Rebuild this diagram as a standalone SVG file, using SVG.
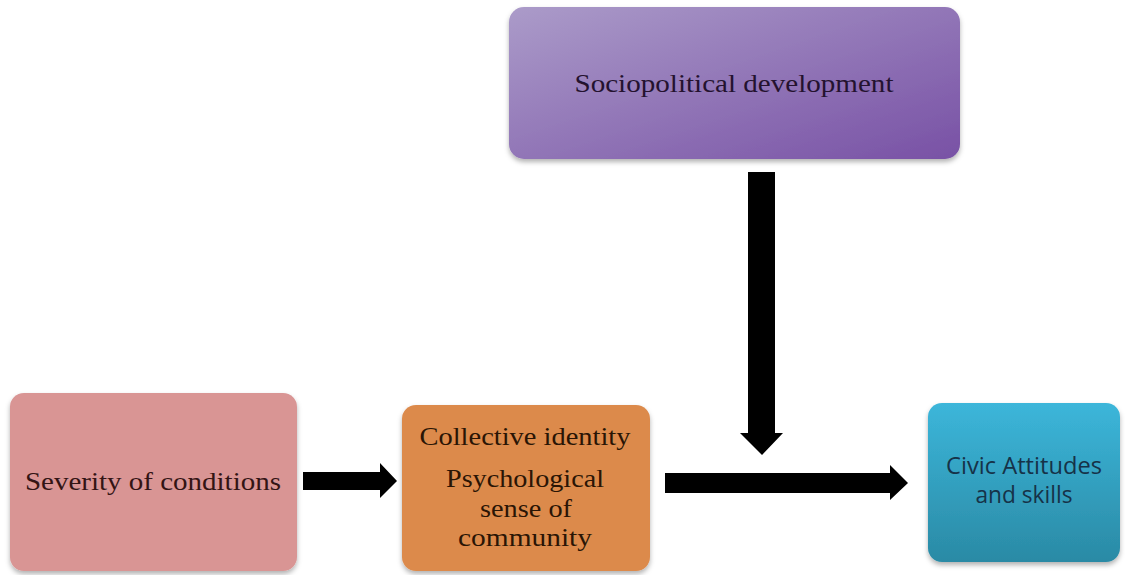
<svg xmlns="http://www.w3.org/2000/svg" width="1125" height="575" viewBox="0 0 1125 575">
<defs>
<linearGradient id="gPurple" x1="0" y1="0" x2="1" y2="1">
<stop offset="0" stop-color="#ab9bc9"/>
<stop offset="1" stop-color="#7851a5"/>
</linearGradient>
<linearGradient id="gTeal" x1="0" y1="0" x2="0" y2="1">
<stop offset="0" stop-color="#3cb6da"/>
<stop offset="1" stop-color="#2a8aa5"/>
</linearGradient>
<filter id="sh" x="-10%" y="-10%" width="120%" height="125%">
<feDropShadow dx="0" dy="3" stdDeviation="2.5" flood-color="#000" flood-opacity="0.3"/>
</filter>
</defs>
<style>
.serif{font-family:"Liberation Serif","DejaVu Serif",serif;font-size:26px;text-anchor:middle}
.sans{font-family:"Open Sans","Liberation Sans",sans-serif;font-size:23px;text-anchor:middle;fill:#163248}
</style>
<rect width="1125" height="575" fill="#ffffff"/>
<g id="connectors" fill="#000">
<polygon points="303,472 380,472 380,463 397,481 380,498 380,490 303,490"/>
<polygon points="665,473 890,473 890,465 908,483 890,500 890,493 665,493"/>
<polygon points="748,172 775,172 775,433 783,433 762,455 740,433 748,433"/>
</g>
<g id="sociopolitical">
<rect x="509" y="7" width="451" height="152" rx="15" fill="url(#gPurple)" filter="url(#sh)"/>
<text class="serif" x="734" y="92" fill="#24122f" textLength="319" lengthAdjust="spacingAndGlyphs">Sociopolitical development</text>
</g>
<g id="severity">
<rect x="10" y="393" width="287" height="178" rx="14" fill="#d99594" filter="url(#sh)"/>
<text class="serif" x="153" y="490" fill="#331414" textLength="256" lengthAdjust="spacingAndGlyphs">Severity of conditions</text>
</g>
<g id="collective">
<rect x="402" y="405" width="248" height="166" rx="14" fill="#dc8a4c" filter="url(#sh)"/>
<text class="serif" x="525" y="445" fill="#2a1505" textLength="211" lengthAdjust="spacingAndGlyphs">Collective identity</text>
<text class="serif" x="525" y="487" fill="#2a1505" textLength="158" lengthAdjust="spacingAndGlyphs">Psychological</text>
<text class="serif" x="526" y="517" fill="#2a1505" textLength="92" lengthAdjust="spacingAndGlyphs">sense of</text>
<text class="serif" x="525" y="546" fill="#2a1505" textLength="134" lengthAdjust="spacingAndGlyphs">community</text>
</g>
<g id="civic">
<rect x="928" y="403" width="192" height="159" rx="14" fill="url(#gTeal)" filter="url(#sh)"/>
<text class="sans" x="1024" y="474" textLength="156" lengthAdjust="spacingAndGlyphs">Civic Attitudes</text>
<text class="sans" x="1024" y="503" textLength="97" lengthAdjust="spacingAndGlyphs">and skills</text>
</g>
</svg>
